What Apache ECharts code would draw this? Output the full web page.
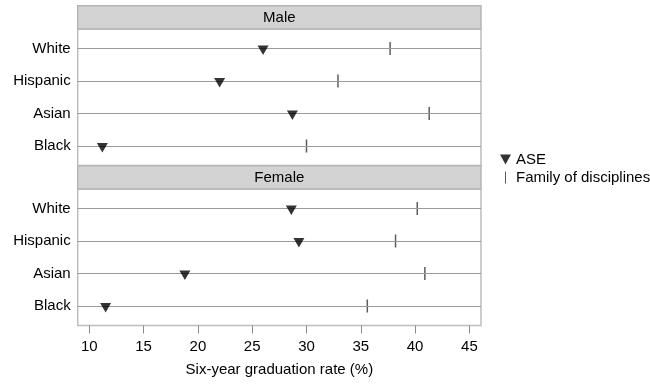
<!DOCTYPE html>
<html>
<head>
<meta charset="utf-8">
<script src="https://cdn.jsdelivr.net/npm/echarts@6/dist/echarts.min.js"></script>
<style>
  html, body { margin: 0; padding: 0; background: #fff; }
  #chart { width: 650px; height: 384px; }
</style>
</head>
<body>
<div id="chart"></div>
<script>
// Six-year graduation rate by race/ethnicity, split by sex
const groups = ['White', 'Hispanic', 'Asian', 'Black'];
const panels = ['Male', 'Female'];
const aseMale = [26.0, 22.0, 28.7, 11.2];
const familyMale = [37.7, 32.9, 41.3, 30.0];
const aseFemale = [28.6, 29.3, 18.8, 11.5];
const familyFemale = [40.2, 38.2, 40.9, 35.6];
const xTicks = [10, 15, 20, 25, 30, 35, 40, 45];

const FONT = '"Liberation Sans", Arial, sans-serif';
const PLOT_L = 77.7, PLOT_W = 403.3;
const STRIP_H = 23.2;
const panelTops = [29, 189];
const PANEL_H = 136.5;

const toPoints = (vals) => vals.map((v, i) => [v, i]);

const triPath = 'path://M0,0L10,0L5,9Z';
const barPath = 'path://M0,0L1,0L1,12L0,12Z';

const chart = echarts.init(document.getElementById('chart'), null, { renderer: 'canvas' });

const grids = panelTops.map(t => ({
  left: PLOT_L, top: t, width: PLOT_W, height: PANEL_H,
  show: true, borderColor: '#bdbdbd', borderWidth: 1.5, backgroundColor: '#fff'
}));

const xAxes = [0, 1].map(g => ({
  type: 'value', gridIndex: g, min: 8.93, max: 46.07, position: 'bottom',
  axisLine: { show: false, onZero: false },
  splitLine: { show: false },
  axisTick: { show: g === 1, inside: false, length: 8, lineStyle: { color: '#8c8c8c', width: 1 }, customValues: xTicks },
  axisLabel: { show: g === 1, customValues: xTicks, color: '#000', fontFamily: FONT, fontSize: 15, margin: 14 },
  name: g === 1 ? 'Six-year graduation rate (%)' : '',
  nameLocation: 'middle', nameGap: 37,
  nameTextStyle: { color: '#000', fontFamily: FONT, fontSize: 15 }
}));

const rowIdx = groups.map((_, i) => i);
const yAxes = [0, 1].map(g => ({
  type: 'value', gridIndex: g, min: -0.6, max: 3.6, inverse: true,
  axisLine: { show: false, onZero: false },
  axisTick: { show: false, customValues: rowIdx },
  splitLine: { show: false },
  axisLabel: {
    customValues: rowIdx,
    formatter: v => groups[Math.round(v)] || '',
    color: '#000', fontFamily: FONT, fontSize: 15, margin: 7
  }
}));

function rowLines() {
  return {
    silent: true, symbol: 'none', animation: false,
    label: { show: false },
    lineStyle: { color: '#9a9a9a', width: 1, type: 'solid' },
    data: rowIdx.map(i => ({ yAxis: i }))
  };
}

const aseSeries = (data, g) => ({
  name: 'ASE', type: 'scatter', xAxisIndex: g, yAxisIndex: g,
  data: toPoints(data), symbol: triPath, symbolSize: [11, 9.5], symbolOffset: [0, 1.7],
  itemStyle: { color: '#000' }, z: 5,
  markLine: rowLines()
});
const famSeries = (data, g) => ({
  name: 'Family of disciplines', type: 'scatter', xAxisIndex: g, yAxisIndex: g,
  data: toPoints(data), symbol: 'rect', symbolSize: [1.5, 13],
  itemStyle: { color: '#333' }, z: 4
});

// Panel header strips
const strips = panels.map((p, k) => {
  const top = panelTops[k] - STRIP_H;
  return {
    type: 'group',
    children: [
      { type: 'rect', shape: { x: PLOT_L, y: top, width: PLOT_W, height: STRIP_H },
        style: { fill: '#d3d3d3', stroke: '#b5b5b5', lineWidth: 1.5 } },
      { type: 'text', x: PLOT_L + PLOT_W / 2, y: top + STRIP_H / 2,
        style: { text: p, font: '15px ' + FONT, fill: '#000', align: 'center', verticalAlign: 'middle' } }
    ]
  };
});

chart.setOption({
  animation: false,
  backgroundColor: '#fff',
  grid: grids,
  xAxis: xAxes,
  yAxis: yAxes,
  legend: {
    orient: 'vertical', left: 495, top: 147,
    itemWidth: 11, itemHeight: 12, itemGap: 3,
    textStyle: { color: '#000', fontFamily: FONT, fontSize: 15 },
    selectedMode: false,
    data: [
      { name: 'ASE', icon: triPath },
      { name: 'Family of disciplines', icon: barPath }
    ]
  },
  graphic: strips,
  series: [
    aseSeries(aseMale, 0), famSeries(familyMale, 0),
    aseSeries(aseFemale, 1), famSeries(familyFemale, 1)
  ]
});
</script>
</body>
</html>
